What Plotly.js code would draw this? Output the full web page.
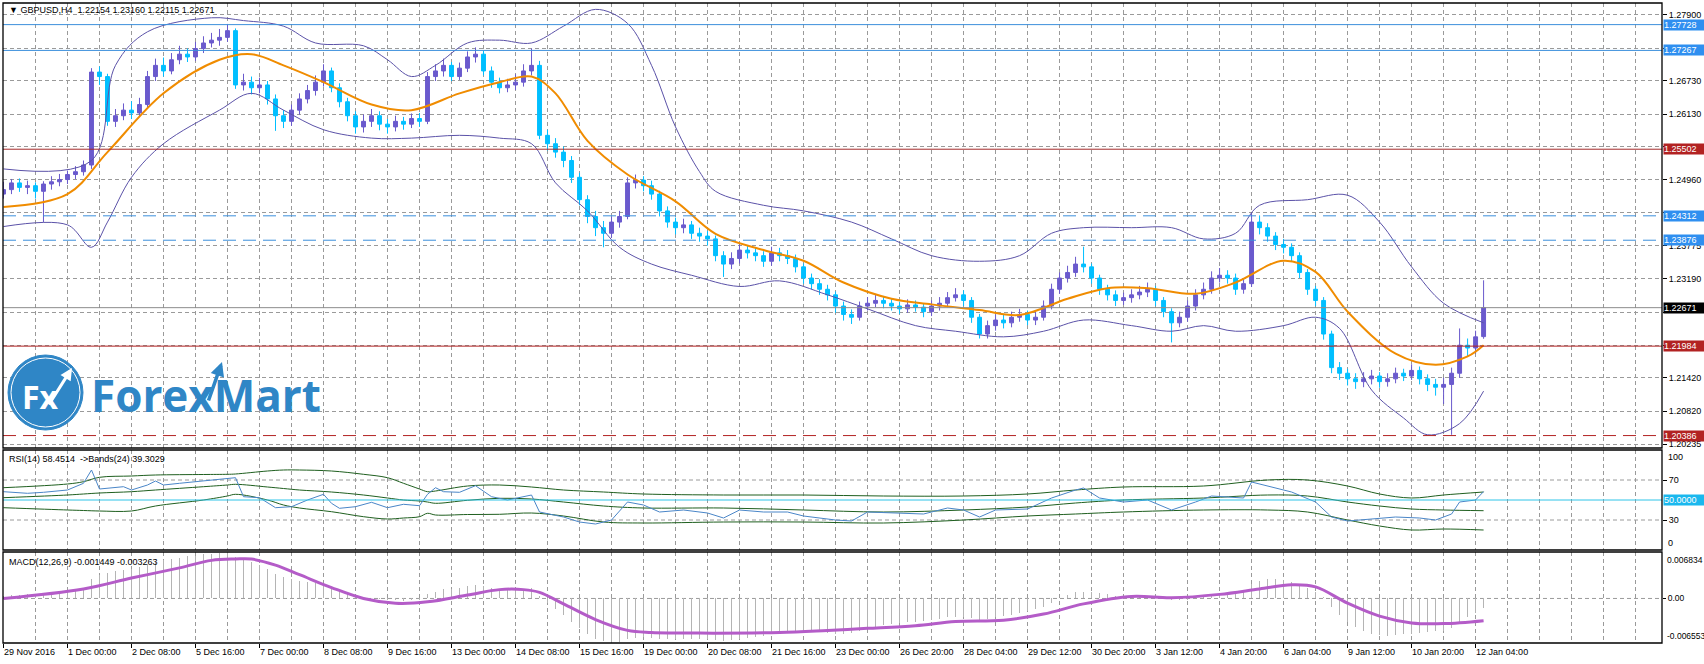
<!DOCTYPE html>
<html><head><meta charset="utf-8">
<script src="https://cdn.plot.ly/plotly-3.0.1.min.js"></script>
<style>html,body{margin:0;padding:0;background:#fff;}#chart{width:1704px;height:664px;}</style>
</head><body><div id="chart"></div>
<script>
// ---------- DATA (GBPUSD H4, bar index 0 = 29 Nov 2016 16:00) ----------
const openP = [1.2470,1.2478,1.2490,1.2482,1.2485,1.2475,1.2488,1.2492,1.2496,1.2505,
1.2510,1.2522,1.2688,1.2680,1.2600,1.2610,1.2620,1.2615,1.2630,1.2680,
1.2700,1.2690,1.2710,1.2720,1.2715,1.2730,1.2740,1.2745,1.2750,1.2762,
1.2665,1.2670,1.2660,1.2665,1.2640,1.2610,1.2600,1.2620,1.2640,1.2655,
1.2670,1.2690,1.2660,1.2635,1.2610,1.2590,1.2600,1.2610,1.2595,1.2590,
1.2600,1.2595,1.2605,1.2600,1.2680,1.2690,1.2700,1.2680,1.2695,1.2715,
1.2720,1.2690,1.2670,1.2660,1.2665,1.2670,1.2690,1.2700,1.2575,1.2560,
1.2545,1.2530,1.2500,1.2460,1.2430,1.2410,1.2400,1.2420,1.2430,1.2490,
1.2495,1.2485,1.2470,1.2440,1.2420,1.2410,1.2415,1.2400,1.2395,1.2390,
1.2360,1.2345,1.2355,1.2370,1.2365,1.2360,1.2350,1.2365,1.2360,1.2355,
1.2340,1.2320,1.2310,1.2300,1.2290,1.2270,1.2255,1.2250,1.2270,1.2275,
1.2280,1.2275,1.2270,1.2265,1.2272,1.2268,1.2260,1.2270,1.2275,1.2285,
1.2290,1.2280,1.2250,1.2220,1.2235,1.2245,1.2240,1.2250,1.2255,1.2245,
1.2250,1.2270,1.2300,1.2320,1.2330,1.2345,1.2340,1.2320,1.2300,1.2290,
1.2280,1.2285,1.2290,1.2295,1.2300,1.2280,1.2260,1.2240,1.2250,1.2270,
1.2290,1.2300,1.2320,1.2325,1.2320,1.2300,1.2310,1.2420,1.2410,1.2395,
1.2380,1.2375,1.2360,1.2330,1.2300,1.2280,1.2220,1.2160,1.2150,1.2140,
1.2135,1.2140,1.2145,1.2135,1.2140,1.2150,1.2145,1.2155,1.2140,1.2130,
1.2125,1.2130,1.2150,1.2200,1.2195,1.22154];
const highP = [1.2492,1.2497,1.2498,1.2494,1.2491,1.2493,1.2502,1.2506,1.2512,1.2520,
1.2530,1.2695,1.2698,1.2685,1.2622,1.2632,1.2636,1.2642,1.2690,1.2712,
1.2714,1.2722,1.2735,1.2730,1.2742,1.2752,1.2758,1.2765,1.2774,1.2766,
1.2685,1.2680,1.2678,1.2672,1.2648,1.2620,1.2630,1.2650,1.2665,1.2682,
1.2702,1.2696,1.2668,1.2642,1.2618,1.2612,1.2622,1.2618,1.2604,1.2610,
1.2608,1.2614,1.2615,1.2688,1.2702,1.2712,1.2706,1.2705,1.2725,1.2732,
1.2726,1.2698,1.2678,1.2676,1.2684,1.2702,1.2730,1.2708,1.2585,1.2570,
1.2555,1.2538,1.2508,1.2468,1.2440,1.2422,1.2430,1.2440,1.2500,1.2505,
1.2502,1.2494,1.2476,1.2448,1.2428,1.2426,1.2422,1.2410,1.2404,1.2396,
1.2368,1.2366,1.2380,1.2378,1.2374,1.2368,1.2376,1.2374,1.2370,1.2362,
1.2346,1.2328,1.2318,1.2308,1.2296,1.2278,1.2264,1.2278,1.2286,1.2290,
1.2288,1.2284,1.2278,1.2282,1.2280,1.2275,1.2280,1.2286,1.2295,1.2302,
1.2298,1.2286,1.2256,1.2244,1.2255,1.2254,1.2260,1.2265,1.2262,1.2260,
1.2280,1.2310,1.2330,1.2342,1.2358,1.2376,1.2346,1.2326,1.2308,1.2298,
1.2294,1.2300,1.2306,1.2312,1.2306,1.2286,1.2266,1.2260,1.2280,1.2300,
1.2312,1.2332,1.2338,1.2334,1.2328,1.2320,1.2436,1.2432,1.2418,1.2402,
1.2390,1.2382,1.2366,1.2336,1.2306,1.2286,1.2226,1.2170,1.2158,1.2150,
1.2152,1.2156,1.2152,1.2150,1.2160,1.2158,1.2166,1.2162,1.2148,1.2140,
1.2142,1.2160,1.2230,1.2212,1.2226,1.23160];
const lowP = [1.2462,1.2470,1.2474,1.2470,1.2462,1.2420,1.2478,1.2484,1.2488,1.2497,
1.2503,1.2515,1.2665,1.2592,1.2590,1.2602,1.2604,1.2608,1.2625,1.2672,
1.2680,1.2684,1.2702,1.2706,1.2708,1.2722,1.2732,1.2735,1.2742,1.2658,
1.2655,1.2648,1.2650,1.2630,1.2583,1.2588,1.2592,1.2612,1.2632,1.2646,
1.2662,1.2652,1.2625,1.2600,1.2578,1.2580,1.2590,1.2584,1.2578,1.2582,
1.2585,1.2588,1.2590,1.2595,1.2672,1.2680,1.2672,1.2674,1.2688,1.2705,
1.2682,1.2660,1.2650,1.2652,1.2656,1.2662,1.2682,1.2568,1.2548,1.2535,
1.2518,1.2490,1.2450,1.2418,1.2395,1.2375,1.2392,1.2410,1.2425,1.2480,
1.2475,1.2460,1.2430,1.2410,1.2398,1.2400,1.2390,1.2385,1.2378,1.2350,
1.2322,1.2336,1.2346,1.2355,1.2350,1.2340,1.2342,1.2350,1.2345,1.2330,
1.2310,1.2300,1.2290,1.2280,1.2258,1.2244,1.2238,1.2244,1.2262,1.2268,
1.2266,1.2262,1.2256,1.2258,1.2260,1.2250,1.2252,1.2262,1.2268,1.2278,
1.2270,1.2240,1.2212,1.2212,1.2226,1.2230,1.2232,1.2242,1.2236,1.2236,
1.2244,1.2264,1.2292,1.2312,1.2322,1.2330,1.2310,1.2290,1.2280,1.2270,
1.2272,1.2276,1.2282,1.2286,1.2270,1.2250,1.2205,1.2232,1.2242,1.2262,
1.2282,1.2292,1.2312,1.2310,1.2290,1.2292,1.2304,1.2398,1.2385,1.2370,
1.2364,1.2350,1.2320,1.2290,1.2270,1.2210,1.2150,1.2138,1.2128,1.2122,
1.2125,1.2130,1.2124,1.2126,1.2132,1.2136,1.2138,1.2130,1.2118,1.2110,
1.2095,1.2040,1.2142,1.2180,1.2185,1.22115];
const closeP = [1.2478,1.2490,1.2482,1.2485,1.2475,1.2488,1.2492,1.2496,1.2505,1.2510,
1.2522,1.2688,1.2680,1.2600,1.2610,1.2620,1.2615,1.2630,1.2680,1.2700,
1.2690,1.2710,1.2720,1.2715,1.2730,1.2740,1.2745,1.2750,1.2762,1.2665,
1.2670,1.2660,1.2665,1.2640,1.2610,1.2600,1.2620,1.2640,1.2655,1.2670,
1.2690,1.2660,1.2635,1.2610,1.2590,1.2600,1.2610,1.2595,1.2590,1.2600,
1.2595,1.2605,1.2600,1.2680,1.2690,1.2700,1.2680,1.2695,1.2715,1.2720,
1.2690,1.2670,1.2660,1.2665,1.2670,1.2690,1.2700,1.2575,1.2560,1.2545,
1.2530,1.2500,1.2460,1.2430,1.2410,1.2400,1.2420,1.2430,1.2490,1.2495,
1.2485,1.2470,1.2440,1.2420,1.2410,1.2415,1.2400,1.2395,1.2390,1.2360,
1.2345,1.2355,1.2370,1.2365,1.2360,1.2350,1.2365,1.2360,1.2355,1.2340,
1.2320,1.2310,1.2300,1.2290,1.2270,1.2255,1.2250,1.2270,1.2275,1.2280,
1.2275,1.2270,1.2265,1.2272,1.2268,1.2260,1.2270,1.2275,1.2285,1.2290,
1.2280,1.2250,1.2220,1.2235,1.2245,1.2240,1.2250,1.2255,1.2245,1.2250,
1.2270,1.2300,1.2320,1.2330,1.2345,1.2340,1.2320,1.2300,1.2290,1.2280,
1.2285,1.2290,1.2295,1.2300,1.2280,1.2260,1.2240,1.2250,1.2270,1.2290,
1.2300,1.2320,1.2325,1.2320,1.2300,1.2310,1.2420,1.2410,1.2395,1.2380,
1.2375,1.2360,1.2330,1.2300,1.2280,1.2220,1.2160,1.2150,1.2140,1.2135,
1.2140,1.2145,1.2135,1.2140,1.2150,1.2145,1.2155,1.2140,1.2130,1.2125,
1.2130,1.2150,1.2200,1.2195,1.2215,1.22671];

const macdMain = [0.0004,0.0005,0.0005,0.0006,0.0006,0.0007,0.0008,0.0009,0.0011,0.0013,
0.0016,0.0028,0.0034,0.0037,0.0040,0.0042,0.0044,0.0047,0.0051,0.0054,
0.0056,0.0058,0.0060,0.0062,0.0063,0.0065,0.0066,0.0067,0.0068,0.0061,
0.0057,0.0054,0.0049,0.0043,0.0036,0.0031,0.0028,0.0026,0.0024,0.0023,
0.0022,0.0017,0.0012,0.0007,0.0003,0.0002,0.0001,-0.0001,-0.0003,-0.0003,
-0.0004,-0.0003,-0.0002,0.0007,0.0010,0.0014,0.0014,0.0016,0.0018,0.0020,
0.0018,0.0016,0.0014,0.0013,0.0013,0.0014,0.0015,0.0004,-0.0006,-0.0015,
-0.0025,-0.0035,-0.0044,-0.0052,-0.0059,-0.0063,-0.00655,-0.0064,-0.0059,-0.0058,
-0.0057,-0.0058,-0.0060,-0.0060,-0.0060,-0.0060,-0.0060,-0.0059,-0.0060,-0.0061,
-0.0062,-0.0061,-0.0060,-0.0058,-0.0056,-0.0055,-0.0053,-0.0051,-0.0049,-0.0049,
-0.0049,-0.0050,-0.0050,-0.0051,-0.0052,-0.0052,-0.0051,-0.0048,-0.0045,-0.0042,
-0.0039,-0.0037,-0.0036,-0.0035,-0.0034,-0.0033,-0.0032,-0.0030,-0.0028,-0.0027,
-0.0027,-0.0029,-0.0031,-0.0030,-0.0028,-0.0026,-0.0024,-0.0021,-0.0019,-0.0016,
-0.0012,-0.0006,0.0000,0.0005,0.0009,0.0010,0.0010,0.0008,0.0006,0.0004,
0.0003,0.0003,0.0003,0.0003,0.0002,0.0000,-0.0002,-0.0003,-0.0002,0.0000,
0.0003,0.0005,0.0008,0.0009,0.0009,0.0010,0.0021,0.0026,0.0028,0.0028,
0.0027,0.0024,0.0021,0.0016,0.0010,0.0002,-0.0012,-0.0025,-0.0035,-0.0042,
-0.0048,-0.0052,-0.0054,-0.0055,-0.0054,-0.0053,-0.0052,-0.0051,-0.0049,-0.0048,
-0.0048,-0.0043,-0.0034,-0.0028,-0.0022,-0.001449];

const sigIdx = [0,10,16,22,26,29,31,34,37,41,45,49,53,58,62,65,67,70,74,78,81,87,97,103,108,114,119,125,130,135,141,146,152,157,161,164,168,172,176,180,185];
const sigVal = [0.0000,0.0014,0.0030,0.0045,0.0056,0.0058,0.0058,0.0049,0.0035,0.0016,0.0000,-0.0007,-0.0005,0.0005,0.0013,0.0013,0.0009,-0.0008,-0.0031,-0.0047,-0.0050,-0.0051,-0.0050,-0.0047,-0.0044,-0.0040,-0.0034,-0.0032,-0.0023,-0.0008,0.0003,0.0001,0.0006,0.0014,0.0020,0.0017,-0.0007,-0.0026,-0.0036,-0.0037,-0.003263];

const bbIdx = [0,11,14,18,26,30,35,39,45,48,51,54,58,62,66,70,74,78,81,84,87,89,95,100,106,111,116,122,127,131,135,141,146,150,154,157,163,168,172,176,180,185];
const bbUpper = [1.2515,1.2530,1.2700,1.2760,1.2785,1.2780,1.2770,1.2740,1.2735,1.2710,1.2680,1.2700,1.2740,1.2745,1.2740,1.2770,1.2800,1.2775,1.2700,1.2590,1.2510,1.2475,1.2450,1.2440,1.2420,1.2390,1.2360,1.2350,1.2360,1.2400,1.2410,1.2410,1.2410,1.2390,1.2400,1.2450,1.2460,1.2468,1.2420,1.2340,1.2275,1.2240];
const lbIdx = [0,8,11,13,16,20,27,31,35,40,46,51,57,62,66,69,73,77,81,86,92,97,103,108,114,119,125,130,135,141,146,150,154,160,164,167,171,175,178,182,185];
const bbLower = [1.2412,1.2415,1.2375,1.2420,1.2500,1.2560,1.2620,1.2650,1.2620,1.2585,1.2570,1.2570,1.2575,1.2570,1.2560,1.2490,1.2440,1.2375,1.2345,1.2325,1.2305,1.2315,1.2290,1.2265,1.2235,1.2225,1.2215,1.2225,1.2245,1.2235,1.2225,1.2235,1.2225,1.2235,1.2250,1.2230,1.2120,1.2070,1.2040,1.2060,1.2118];
const maIdx = [0,8,13,20,27,31,35,40,46,51,57,62,66,69,73,78,84,89,95,100,105,111,116,122,127,133,138,143,149,154,160,164,168,174,179,183,185];
const maVal = [1.2447,1.2470,1.2545,1.2650,1.2710,1.2720,1.2700,1.2670,1.2630,1.2620,1.2650,1.2670,1.2680,1.2650,1.2565,1.2505,1.2457,1.2399,1.2370,1.2351,1.2312,1.2283,1.2273,1.2263,1.2254,1.2283,1.2302,1.2302,1.2292,1.2312,1.2351,1.2331,1.2260,1.2185,1.2165,1.2180,1.2200];

const rsiIdx = [0,3,5,8,10,11,12,13,15,16,18,19,20,22,24,26,28,29,30,32,34,36,38,40,41,42,44,46,48,50,52,53,54,55,57,59,61,62,
63,66,67,70,72,74,76,78,80,82,85,88,90,92,95,98,100,104,106,108,112,115,118,120,122,124,128,131,134,135,137,140,143,146,149,151,153,155,156,158,161,164,166,168,171,174,177,179,181,182,184,185];
const rsiVal = [58.3,56.7,57.7,60,66.7,80,61,61.7,63.3,60,65,69,65,66.7,68.3,70,71,72.3,53.3,52.3,42.3,43.3,50,55.7,46.7,41.7,43.3,47.7,42.3,45.7,44.3,55.7,62.3,58.3,57.7,64.3,53.3,51.7,
50,55,38,33,28,26,30,48,45,38,40,37,32,40,38,38,34,30,29,38,37,36,42,40,33,40,41,52,60,62,52,48,50,40,48,54,53,52,68,64,58,48,33,29,31,33,32,30,36,48,50,58.45];
const rbIdx = [0,8,10,12,16,19,25,28,29,33,35,37,41,45,48,50,52,53,54,58,62,66,70,75,80,90,100,110,120,128,134,140,150,158,163,168,172,176,180,185];
const rsiUp = [62.3,66,68.3,72.7,74,75,75.5,75.7,76,79,80,80,79,75.7,72.3,66.7,61,58.3,59,64,65,63,60,58,56,55,55,54,54,56,60,63,64,70,70,64,56,52,55,58];
const rsiMid = [52.3,55,56,57,58.3,60,63.3,65,65.7,63,61.5,60,58,55,52,50,49,48,46.7,49.7,51.7,51,48,44,42,42,40,38,40,43,47,50,52,55,54,48,44,41,40,39.3];
const rsiLow = [42.3,40,39.5,39,39,44,50,54,55.7,50,45,42,38.3,33.3,31,32,33.3,36.7,35,35.5,35.7,37,34,28,27,28,28,27,30,34,36,38,40,40,38,30,24,20,21,20];

const tickIdx = [0,8,16,24,32,40,48,56,64,72,80,88,96,104,112,120,128,136,144,152,160,168,176,184];
const tickText = ["29 Nov 2016","1 Dec 00:00","2 Dec 08:00","5 Dec 16:00","7 Dec 00:00","8 Dec 08:00","9 Dec 16:00","13 Dec 00:00","14 Dec 08:00","15 Dec 16:00","19 Dec 00:00","20 Dec 08:00","21 Dec 16:00","23 Dec 00:00","26 Dec 20:00","28 Dec 04:00","29 Dec 12:00","30 Dec 20:00","3 Jan 12:00","4 Jan 20:00","6 Jan 04:00","9 Jan 12:00","10 Jan 20:00","12 Jan 04:00"];
const priceTicks = [1.27900,1.27310,1.26730,1.26130,1.25545,1.24960,1.24375,1.23775,1.23190,1.22590,1.22000,1.21420,1.20820,1.20235];
const priceTickText = ["1.27900","","1.26730","1.26130","","1.24960","","1.23775","1.23190","","","1.21420","1.20820","1.20235"];
const levels = [1.27728,1.27267,1.25502,1.24312,1.23876,1.22671,1.21984,1.20386];
const rsiTicks = [70,30];
const rsiMax = 100, rsiMin = 0;
const macdMax = 0.006834, macdMin = -0.006553;

const idx = closeP.map((_,i)=>i);

// ---------- STYLE / LAYOUT ----------
const W=1704,H=664,L=3,R=1662,T=3,B=643;
const px=X=>(X-L)/(R-L), py=Y=>(B-Y)/(B-T);
const FONT='Liberation Sans, Arial, sans-serif';
const grid='#9a9a9a', gdash='4px,3px';
const levelStyle = [
 {c:'#3c8fdc',d:'solid',bg:'#2f8ff0'},
 {c:'#3c8fdc',d:'solid',bg:'#2f8ff0'},
 {c:'#a52a2a',d:'solid',bg:'#b22222'},
 {c:'#3c8fdc',d:'13px,7px',bg:'#2f8ff0'},
 {c:'#3c8fdc',d:'13px,7px',bg:'#2f8ff0'},
 {c:'#8c8c8c',d:'solid',bg:'#000000'},
 {c:'#b22222',d:'solid',bg:'#b22222'},
 {c:'#b22222',d:'13px,7px',bg:'#b22222'}];

const traces = [
 {type:'candlestick',x:idx,open:openP,high:highP,low:lowP,close:closeP,xaxis:'x',yaxis:'y',
  increasing:{line:{color:'#6a5acd',width:1},fillcolor:'#6a5acd'},
  decreasing:{line:{color:'#00bfff',width:1},fillcolor:'#00bfff'},whiskerwidth:0,hoverinfo:'skip',showlegend:false},
 {type:'scatter',mode:'lines',x:bbIdx,y:bbUpper,line:{color:'#5b52a8',width:1,shape:'spline'},xaxis:'x',yaxis:'y',hoverinfo:'skip'},
 {type:'scatter',mode:'lines',x:lbIdx,y:bbLower,line:{color:'#5b52a8',width:1,shape:'spline'},xaxis:'x',yaxis:'y',hoverinfo:'skip'},
 {type:'scatter',mode:'lines',x:maIdx,y:maVal,line:{color:'#f08c00',width:2,shape:'spline'},xaxis:'x',yaxis:'y',hoverinfo:'skip'},
 {type:'scatter',mode:'lines',x:rbIdx,y:rsiUp,line:{color:'#1f5f1f',width:1,shape:'spline'},xaxis:'x',yaxis:'y2',hoverinfo:'skip'},
 {type:'scatter',mode:'lines',x:rbIdx,y:rsiMid,line:{color:'#1f5f1f',width:1,shape:'spline'},xaxis:'x',yaxis:'y2',hoverinfo:'skip'},
 {type:'scatter',mode:'lines',x:rbIdx,y:rsiLow,line:{color:'#1f5f1f',width:1,shape:'spline'},xaxis:'x',yaxis:'y2',hoverinfo:'skip'},
 {type:'scatter',mode:'lines',x:rsiIdx,y:rsiVal,line:{color:'#4a86c8',width:1},xaxis:'x',yaxis:'y2',hoverinfo:'skip'},
 {type:'bar',x:idx,y:macdMain,width:0.14,marker:{color:'#b4b4b4',line:{width:0}},xaxis:'x',yaxis:'y3',hoverinfo:'skip'},
 {type:'scatter',mode:'lines',x:sigIdx,y:sigVal,line:{color:'#b45cc8',width:3,shape:'spline'},xaxis:'x',yaxis:'y3',hoverinfo:'skip'}
];

const shapes=[];
levels.forEach((v,k)=>shapes.push({type:'line',xref:'paper',x0:0,x1:1,yref:'y',y0:v,y1:v,line:{color:levelStyle[k].c,width:1,dash:levelStyle[k].d},layer:'above'}));
rsiTicks.forEach(v=>shapes.push({type:'line',xref:'paper',x0:0,x1:1,yref:'y2',y0:v,y1:v,line:{color:grid,width:1,dash:gdash},layer:'below'}));
shapes.push({type:'line',xref:'paper',x0:0,x1:1,yref:'y2',y0:50,y1:50,line:{color:'#2ec4e8',width:1}});
shapes.push({type:'line',xref:'paper',x0:0,x1:1,yref:'y3',y0:0,y1:0,line:{color:grid,width:1,dash:gdash},layer:'below'});
['y','y2','y3'].forEach(a=>shapes.push({type:'rect',xref:'paper',x0:0,x1:1,yref:a+' domain',y0:0,y1:1,line:{color:'#000',width:1.3},fillcolor:'rgba(0,0,0,0)'}));
shapes.push({type:'circle',xref:'paper',yref:'paper',x0:px(8),x1:px(83),y0:py(430),y1:py(355),fillcolor:'#2f86c6',line:{color:'#2f86c6',width:1}});
shapes.push({type:'circle',xref:'paper',yref:'paper',x0:px(11),x1:px(80),y0:py(427),y1:py(358),fillcolor:'rgba(0,0,0,0)',line:{color:'#ffffff',width:1}});

const ann=[];
levels.forEach((v,k)=>ann.push({xref:'paper',x:px(1663),xanchor:'left',yref:'y',y:v,yanchor:'middle',text:v.toFixed(5),showarrow:false,
  bgcolor:levelStyle[k].bg,font:{family:FONT,size:9,color:'#fff'},width:40,height:10,align:'left',borderpad:0}));
ann.push({xref:'paper',x:px(1663),xanchor:'left',yref:'y2',y:50,yanchor:'middle',text:'50.0000',showarrow:false,
  bgcolor:'#1ab8ee',font:{family:FONT,size:9,color:'#fff'},width:40,height:10,align:'left',borderpad:0});
// end-of-scale labels of the sub-windows (drawn just inside the window edges, as in the terminal)
[[rsiMax,457],[rsiMin,543]].forEach(([v,Y])=>ann.push({xref:'paper',yref:'paper',x:px(1666),y:py(Y),xanchor:'left',yanchor:'middle',showarrow:false,
  text:String(v),font:{family:FONT,size:9,color:'#000'}}));
[[macdMax,560],[macdMin,636]].forEach(([v,Y])=>ann.push({xref:'paper',yref:'paper',x:px(1665),y:py(Y),xanchor:'left',yanchor:'middle',showarrow:false,
  text:v.toFixed(6),font:{family:FONT,size:8.5,color:'#000'}}));
ann.push({xref:'paper',yref:'paper',x:px(7),y:py(10),xanchor:'left',yanchor:'middle',showarrow:false,
  text:'▼ GBPUSD,H4  1.22154 1.23160 1.22115 1.22671',font:{family:FONT,size:9,color:'#000'}});
ann.push({xref:'paper',yref:'paper',x:px(7),y:py(459),xanchor:'left',yanchor:'middle',showarrow:false,
  text:'RSI(14) 58.4514  ->Bands(24) 39.3029',font:{family:FONT,size:9,color:'#000'}});
ann.push({xref:'paper',yref:'paper',x:px(7),y:py(562),xanchor:'left',yanchor:'middle',showarrow:false,
  text:'MACD(12,26,9) -0.001449 -0.003263',font:{family:FONT,size:9,color:'#000'}});
ann.push({xref:'paper',yref:'paper',x:px(40),y:py(396),xanchor:'center',yanchor:'middle',showarrow:false,
  text:'<b>Fx</b>',font:{family:'Open Sans, sans-serif',size:32,color:'#fff'}});
ann.push({xref:'paper',yref:'paper',x:px(72),y:py(368),ax:-24,ay:38,showarrow:true,arrowhead:2,arrowsize:0.8,arrowwidth:3,arrowcolor:'#fff',text:''});
ann.push({xref:'paper',yref:'paper',x:px(89),y:py(395),xanchor:'left',yanchor:'middle',showarrow:false,
  text:'<b>ForexMart</b>',font:{family:'Open Sans, sans-serif',size:44,color:'#2f86c6'}});
ann.push({xref:'paper',yref:'paper',x:px(222),y:py(362),ax:-14,ay:40,showarrow:true,arrowhead:2,arrowsize:0.8,arrowwidth:3.5,arrowcolor:'#2f86c6',text:''});

const yCommon={side:'right',anchor:'x',ticks:'outside',ticklen:4,tickcolor:'#000',tickfont:{family:FONT,size:9,color:'#000'},zeroline:false,showline:false,fixedrange:true};
const layout={
 width:W,height:H,margin:{l:L,r:W-R,t:T,b:H-B,pad:0},paper_bgcolor:'#fff',plot_bgcolor:'#fff',showlegend:false,
 font:{family:FONT,size:9,color:'#000'},bargap:0,
 xaxis:{domain:[0,1],anchor:'y3',range:[-0.06,207.3],tickmode:'array',tickvals:tickIdx,ticktext:tickText,ticks:'outside',ticklen:4,tickcolor:'#000',
   ticklabelposition:'outside right',tickfont:{family:FONT,size:9,color:'#000'},showgrid:true,gridcolor:grid,griddash:gdash,gridwidth:1,
   minor:{dtick:4,tick0:0,showgrid:true,gridcolor:grid,griddash:gdash,gridwidth:1,ticks:''},zeroline:false,showline:false,rangeslider:{visible:false},fixedrange:true},
 yaxis:Object.assign({},yCommon,{domain:[py(448),1],range:[1.20164,1.28114],tickmode:'array',tickvals:priceTicks,ticktext:priceTickText,showgrid:true,gridcolor:grid,griddash:gdash,gridwidth:1}),
 yaxis2:Object.assign({},yCommon,{domain:[py(550),py(450)],range:[rsiMin,rsiMax],tickmode:'array',tickvals:rsiTicks,ticktext:rsiTicks.map(String),showgrid:false}),
 yaxis3:Object.assign({},yCommon,{domain:[0,py(552)],range:[macdMin,macdMax],tickmode:'array',tickvals:[0],ticktext:['0.00'],showgrid:false,ticklen:3,tickfont:{family:FONT,size:8.5,color:'#000'}}),
 shapes:shapes,annotations:ann
};
Plotly.newPlot('chart',traces,layout,{staticPlot:true,displayModeBar:false});
</script></body></html>
